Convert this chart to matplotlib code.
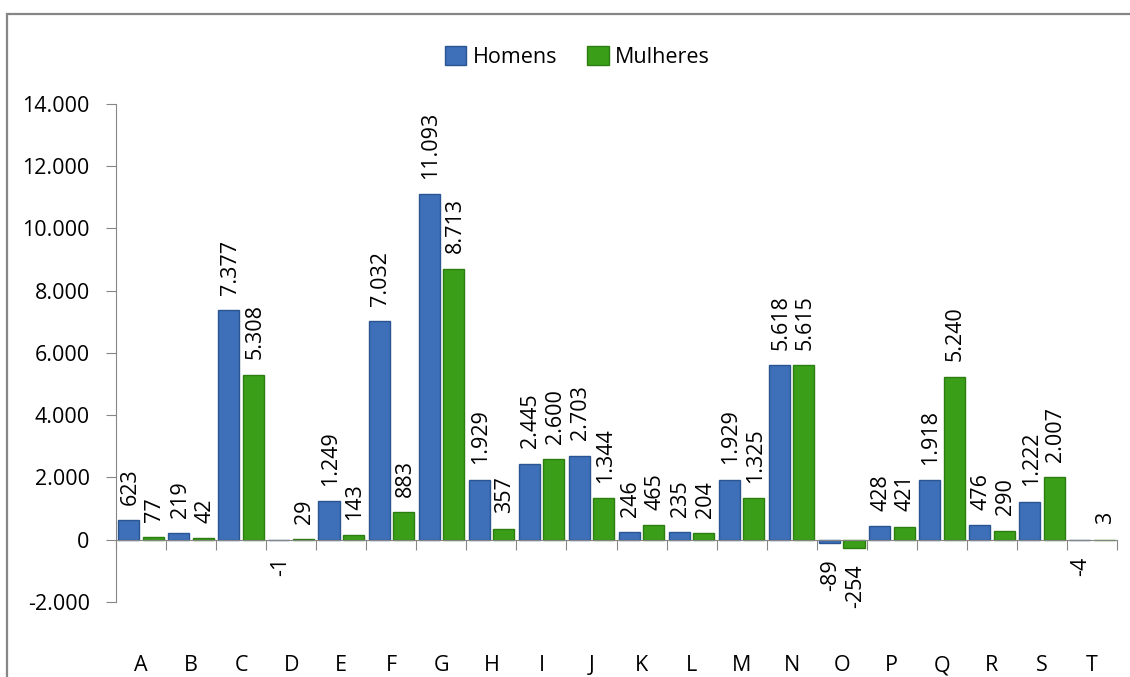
import matplotlib.pyplot as plt
import matplotlib.patches as mpatches
from matplotlib.ticker import FuncFormatter, FixedLocator
import numpy as np

plt.rcParams['font.family'] = ['Open Sans', 'DejaVu Sans']

categorias = ['A', 'B', 'C', 'D', 'E', 'F', 'G', 'H', 'I', 'J',
              'K', 'L', 'M', 'N', 'O', 'P', 'Q', 'R', 'S', 'T']
homens = [623, 219, 7377, -1, 1249, 7032, 11093, 1929, 2445, 2703,
          246, 235, 1929, 5618, -89, 428, 1918, 476, 1222, -4]
mulheres = [77, 42, 5308, 29, 143, 883, 8713, 357, 2600, 1344,
            465, 204, 1325, 5615, -254, 421, 5240, 290, 2007, 3]

azul = '#3d70b8'
verde = '#3b9e18'
cinza = '#868686'
fs = 15.5


def fmt(v):
    return f"{v:,.0f}".replace(',', '.')


fig = plt.figure(figsize=(11.3, 6.77), dpi=100)
ax = fig.add_axes([0.1027, 0.1108, 0.8858, 0.7356])

x = np.arange(len(categorias))
w = 0.42
b1 = ax.bar(x - 0.245, homens, w, color=azul, edgecolor='#2a5592', linewidth=1.0, label='Homens')
b2 = ax.bar(x + 0.245, mulheres, w, color=verde, edgecolor='#2b7d0f', linewidth=1.0, label='Mulheres')

for bars, vals in [(b1, homens), (b2, mulheres)]:
    for rect, v in zip(bars, vals):
        cx = rect.get_x() + rect.get_width() / 2
        if v >= 0:
            ax.annotate(fmt(v), (cx, v), xytext=(1, 11), textcoords='offset points',
                        rotation=90, ha='center', va='bottom', fontsize=fs)
        else:
            ax.annotate(fmt(v), (cx, v), xytext=(1, -12), textcoords='offset points',
                        rotation=90, ha='center', va='top', fontsize=fs)

ax.set_xlim(-0.5, len(categorias) - 0.5)
ax.set_ylim(-2000, 14000)
ax.set_yticks(range(-2000, 14001, 2000))
ax.yaxis.set_major_formatter(FuncFormatter(lambda v, p: fmt(v)))

ax.spines['top'].set_visible(False)
ax.spines['right'].set_visible(False)
ax.spines['left'].set_color(cinza)
ax.spines['bottom'].set_color(cinza)
ax.spines['bottom'].set_position(('data', 0))

ax.xaxis.set_major_locator(FixedLocator(np.arange(-0.5, len(categorias), 1.0)))
ax.xaxis.set_major_formatter(FuncFormatter(lambda v, p: ''))
ax.xaxis.set_minor_locator(FixedLocator(x))
ax.set_xticklabels(categorias, minor=True)
ax.tick_params(axis='x', which='major', length=7, color=cinza, direction='out')
ax.tick_params(axis='x', which='minor', length=0, pad=83, labelsize=fs)
ax.tick_params(axis='y', length=7, color=cinza, pad=12, labelsize=fs)

fig.legend(handles=[b1, b2], labels=['Homens', 'Mulheres'], loc='center',
           bbox_to_anchor=(0.511, 0.916), ncol=2, frameon=False, fontsize=fs,
           handlelength=1.0, handleheight=1.0, handletextpad=0.3, columnspacing=1.4)

borda = mpatches.Rectangle((7 / 1130, -0.1), 1.2, 1.1 - 14 / 677, transform=fig.transFigure,
                           fill=False, edgecolor=cinza, linewidth=1.6)
fig.patches.append(borda)

plt.savefig('out.png', dpi=100)
